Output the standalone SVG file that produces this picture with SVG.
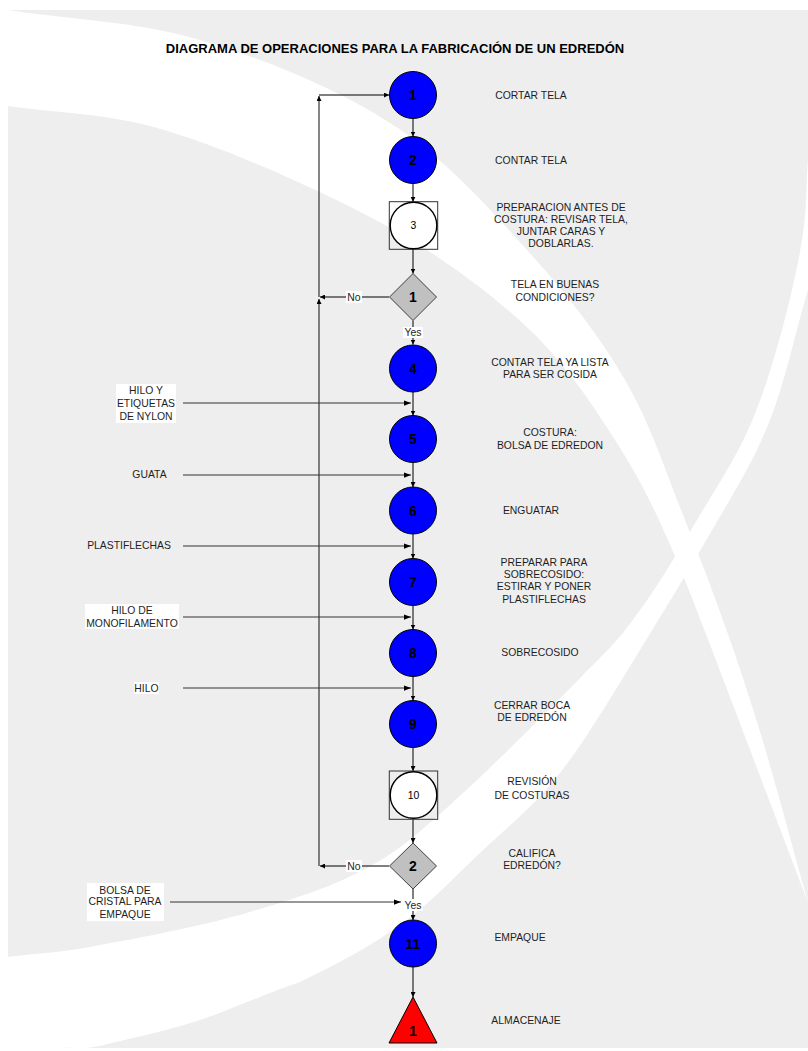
<svg xmlns="http://www.w3.org/2000/svg" width="808" height="1051" viewBox="0 0 808 1051">
<defs>
<style>
text{font-family:"Liberation Sans",Arial,sans-serif;fill:#1e1e1e}
.lbl{font-size:10.4px;text-anchor:middle}
.num{font-size:14px;font-weight:bold;text-anchor:middle;fill:#000}
.numr{font-size:10.4px;text-anchor:middle;fill:#000}
.op{fill:#0000ff;stroke:#000;stroke-width:1}
.insp{fill:#fff;stroke:#000;stroke-width:1.4}
.box{fill:none;stroke:#333;stroke-width:1}
.dec{fill:#c0c0c0;stroke:#404040;stroke-width:1}
.sto{fill:#ff0000;stroke:#000;stroke-width:1}
.ln{fill:none;stroke:#000;stroke-width:1}
.in{fill:none;stroke:#333;stroke-width:1.2}
.bg{fill:#fff}
</style>
<marker id="a" viewBox="0 0 6 6" refX="6" refY="3" markerWidth="5" markerHeight="5" markerUnits="userSpaceOnUse" orient="auto"><path d="M0,0L6,3L0,6z" fill="#000"/></marker>
<marker id="ai" viewBox="0 0 8 6" refX="8" refY="3" markerWidth="7" markerHeight="5.5" markerUnits="userSpaceOnUse" orient="auto"><path d="M0,0L8,3L0,6z" fill="#000"/></marker>
</defs>
<g id="background">
<rect x="0" y="0" width="808" height="1051" fill="#fff"/>
<rect x="8" y="10" width="800" height="1038" fill="#eeeeee"/>
<path fill="#fff" d="M8,10 C72,20 136,21 200,40 C264,59 336,88 390,123 C445,158 488,207 527,250 C566,293 599,335 625,380 C651,425 664,467 685,520 C706,573 730,636 750,700 C771,764 789,835 808,903 C784,839 758,771 735,710 C712,650 688,585 668,540 C648,495 636,473 615,440 C594,407 571,372 540,340 C509,308 467,276 427,250 C387,224 346,204 300,183 C254,162 199,139 150,126 C101,113 55,113 8,106 Z"/>
<path fill="#fff" d="M808,160 C806,184 807,205 803,233 C799,261 791,297 782,330 C773,363 762,399 748,430 C734,461 718,485 700,515 C682,545 660,583 640,610 C621,637 615,643 583,675 C551,708 486,773 450,805 C414,837 400,850 367,868 C334,886 295,899 250,912 C206,925 140,938 100,945 C60,953 39,953 8,957 L8,1048 L60,1048 C73,1047 77,1050 100,1046 C123,1040 167,1031 200,1020 C233,1009 267,993 300,982 C333,966 370,947 400,925 C431,903 456,875 483,850 C510,825 534,806 560,773 C586,740 614,692 640,650 C666,608 696,558 718,520 C740,482 755,458 770,420 C785,382 795,333 808,290 Z"/>
</g>
<text x="395" y="53" style="font-size:13px;font-weight:bold;text-anchor:middle;fill:#000">DIAGRAMA DE OPERACIONES PARA LA FABRICACIÓN DE UN EDREDÓN</text>
<g id="connectors">
<path class="ln" marker-end="url(#a)" d="M413,118.5V136.5"/>
<path class="ln" marker-end="url(#a)" d="M413,183.5V201.7"/>
<path class="ln" marker-end="url(#a)" d="M413,249.3V273.5"/>
<path class="ln" marker-end="url(#a)" d="M413,320.5V344.5"/>
<path class="ln" marker-end="url(#a)" d="M413,392V415.5"/>
<path class="ln" marker-end="url(#a)" d="M413,462.5V487"/>
<path class="ln" marker-end="url(#a)" d="M413,534V558.5"/>
<path class="ln" marker-end="url(#a)" d="M413,605.5V629.5"/>
<path class="ln" marker-end="url(#a)" d="M413,676.5V700.5"/>
<path class="ln" marker-end="url(#a)" d="M413,747.5V771"/>
<path class="ln" marker-end="url(#a)" d="M413,819.3V843"/>
<path class="ln" marker-end="url(#a)" d="M413,889V920"/>
<path class="ln" marker-end="url(#a)" d="M413,967V997"/>
<path class="in" marker-end="url(#ai)" d="M183,403H411"/>
<path class="in" marker-end="url(#ai)" d="M183,475H411"/>
<path class="in" marker-end="url(#ai)" d="M183,546H411"/>
<path class="in" marker-end="url(#ai)" d="M183,617H411"/>
<path class="in" marker-end="url(#ai)" d="M183,688H411"/>
<path class="in" marker-end="url(#ai)" d="M170,902H401"/>
<path class="ln" marker-end="url(#a)" d="M389,297H320"/>
<path class="in" marker-end="url(#a)" d="M319,297V96"/>
<path class="ln" marker-end="url(#a)" d="M319,95H389"/>
<path class="ln" marker-end="url(#a)" d="M389,866H320"/>
<path class="in" marker-end="url(#a)" d="M319,866V299"/>
<rect class="bg" x="346" y="291" width="16" height="12"/>
<text class="lbl" x="354" y="300.7">No</text>
<rect class="bg" x="346" y="860" width="16" height="12"/>
<text class="lbl" x="354" y="869.7">No</text>
<rect class="bg" x="403" y="327" width="20" height="11"/>
<text class="lbl" x="413" y="336.2">Yes</text>
<rect class="bg" x="403" y="899" width="20" height="12"/>
<text class="lbl" x="413" y="908.7">Yes</text>
</g>
<g id="op1"><circle class="op" cx="413" cy="95" r="23.5"/><text class="num" x="413" y="100">1</text></g>
<g id="op2"><circle class="op" cx="413" cy="160" r="23.5"/><text class="num" x="413" y="165">2</text></g>
<g id="op3"><rect class="box" x="389.3" y="201.7" width="48.4" height="47.6"/><circle class="insp" cx="413.5" cy="225.5" r="23.3"/><text class="numr" x="413.5" y="229.3">3</text></g>
<g id="dec1"><path class="dec" d="M413,273.5L436.5,297L413,320.5L389.5,297Z"/><text class="num" x="413" y="302">1</text></g>
<g id="op4"><circle class="op" cx="413" cy="368.5" r="23.5"/><text class="num" x="413" y="373.5">4</text></g>
<g id="op5"><circle class="op" cx="413" cy="439" r="23.5"/><text class="num" x="413" y="444">5</text></g>
<g id="op6"><circle class="op" cx="413" cy="510.5" r="23.5"/><text class="num" x="413" y="515.5">6</text></g>
<g id="op7"><circle class="op" cx="413" cy="582" r="23.5"/><text class="num" x="413" y="587">7</text></g>
<g id="op8"><circle class="op" cx="413" cy="653" r="23.5"/><text class="num" x="413" y="658">8</text></g>
<g id="op9"><circle class="op" cx="413" cy="724" r="23.5"/><text class="num" x="413" y="729">9</text></g>
<g id="op10"><rect class="box" x="389.3" y="771" width="48.4" height="48.3"/><circle class="insp" cx="413.5" cy="795" r="23.3"/><text class="numr" x="413.5" y="798.8">10</text></g>
<g id="dec2"><path class="dec" d="M413,843L436.5,866L413,889L389.5,866Z"/><text class="num" x="413" y="871">2</text></g>
<g id="op11"><circle class="op" cx="413" cy="943.5" r="23.5"/><text class="num" x="413" y="948.5">11</text></g>
<g id="store1"><path class="sto" d="M413,997L437,1043L389,1043Z"/><text class="num" x="413" y="1036">1</text></g>
<g id="labels">
<text class="lbl" x="531" y="99">CORTAR TELA</text>
<text class="lbl" x="531" y="164">CONTAR TELA</text>
<text class="lbl" x="561"><tspan x="561" y="210.5">PREPARACION ANTES DE</tspan><tspan x="561" y="223">COSTURA: REVISAR TELA,</tspan><tspan x="561" y="235.4">JUNTAR CARAS Y</tspan><tspan x="561" y="247.4">DOBLARLAS.</tspan></text>
<text class="lbl"><tspan x="555" y="288">TELA EN BUENAS</tspan><tspan x="555" y="300.5">CONDICIONES?</tspan></text>
<text class="lbl"><tspan x="550" y="365.7">CONTAR TELA YA LISTA</tspan><tspan x="550" y="378">PARA SER COSIDA</tspan></text>
<text class="lbl"><tspan x="550" y="435.7">COSTURA:</tspan><tspan x="550" y="448.5">BOLSA DE EDREDON</tspan></text>
<text class="lbl" x="531" y="514">ENGUATAR</text>
<text class="lbl"><tspan x="544" y="565.7">PREPARAR PARA</tspan><tspan x="544" y="578">SOBRECOSIDO:</tspan><tspan x="544" y="590.4">ESTIRAR Y PONER</tspan><tspan x="544" y="602.7">PLASTIFLECHAS</tspan></text>
<text class="lbl" x="540" y="656">SOBRECOSIDO</text>
<text class="lbl"><tspan x="532" y="708.7">CERRAR BOCA</tspan><tspan x="532" y="721.3">DE EDREDÓN</tspan></text>
<text class="lbl"><tspan x="532" y="785.4">REVISIÓN</tspan><tspan x="532" y="798.7">DE COSTURAS</tspan></text>
<text class="lbl"><tspan x="532" y="857">CALIFICA</tspan><tspan x="532" y="869.4">EDREDÓN?</tspan></text>
<text class="lbl" x="520" y="940.7">EMPAQUE</text>
<text class="lbl" x="526" y="1024.4">ALMACENAJE</text>
</g>
<g id="inputs">
<rect class="bg" x="116" y="384" width="60" height="39"/>
<text class="lbl"><tspan x="146" y="394.4">HILO Y</tspan><tspan x="146" y="407">ETIQUETAS</tspan><tspan x="146" y="419.7">DE NYLON</tspan></text>
<text class="lbl" x="149.5" y="478">GUATA</text>
<text class="lbl" x="129" y="548.7">PLASTIFLECHAS</text>
<rect class="bg" x="85" y="604" width="94" height="25"/>
<text class="lbl"><tspan x="132" y="613.7">HILO DE</tspan><tspan x="132" y="626.7">MONOFILAMENTO</tspan></text>
<rect class="bg" x="134" y="682" width="25" height="12"/>
<text class="lbl" x="146.5" y="691.7">HILO</text>
<rect class="bg" x="87" y="883" width="77" height="38"/>
<text class="lbl"><tspan x="125" y="893.7">BOLSA DE</tspan><tspan x="125" y="905.4">CRISTAL PARA</tspan><tspan x="125" y="918">EMPAQUE</tspan></text>
</g>
</svg>
